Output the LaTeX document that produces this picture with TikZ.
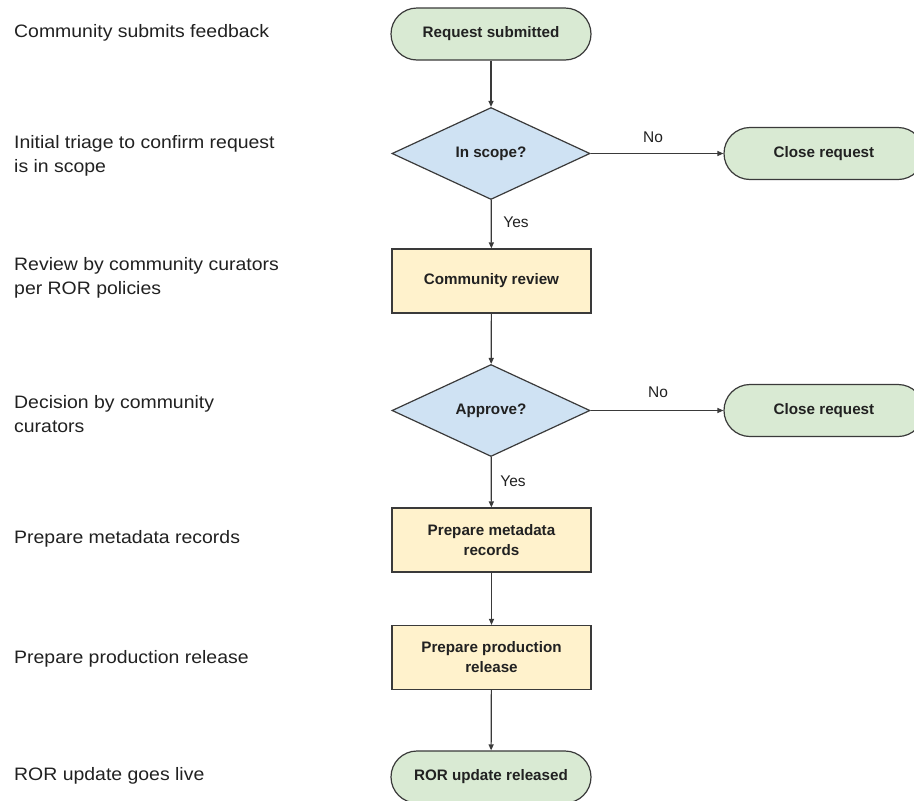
\documentclass[tikz,border=0pt]{standalone}
\usepackage{fontspec}
\setmainfont{Liberation Sans}
\newfontfamily\lblfont[FakeStretch=1.08]{Liberation Sans}
\usetikzlibrary{shapes.geometric,arrows.meta}
\definecolor{termgreen}{HTML}{D9EAD3}
\definecolor{decblue}{HTML}{CFE2F3}
\definecolor{procyellow}{HTML}{FFF2CC}
\definecolor{edgegray}{HTML}{3A3A3A}
\definecolor{txtdark}{HTML}{212121}
\tikzset{
  nodebase/.style={draw=edgegray, line width=1.2pt, font=\fontsize{15.2}{20}\selectfont\bfseries, align=center, inner sep=0pt, text=txtdark},
  term/.style={nodebase, rectangle, rounded corners=26pt, fill=termgreen, minimum width=200pt, minimum height=52pt},
  proc/.style={nodebase, rectangle, fill=procyellow, minimum width=199pt, minimum height=64pt},
  dec/.style={nodebase, diamond, fill=decblue, minimum width=198pt, minimum height=92pt},
  lbl/.style={anchor=base west, inner sep=0pt, font=\lblfont\fontsize{18}{23.5}\selectfont, align=left, text=txtdark},
  edgelbl/.style={font=\fontsize{15.5}{18}\selectfont, inner sep=0pt, text=txtdark},
  conn/.style={draw=edgegray, line width=1.2pt, -{Triangle[length=6pt,width=5pt]}}
}
\begin{document}
\begin{tikzpicture}[x=1pt,y=-1pt]
\useasboundingbox (0,0) rectangle (914,801);
\clip (0,0) rectangle (914,801);
\fill[white] (0,0) rectangle (914,801);
% flow nodes
\node[term] (req) at (491,34) {Request submitted};
\node[dec] (scope) at (491,153.5) {In scope?};
\node[term] (close1) at (824,153.5) {Close request};
\node[proc] (review) at (491.5,281) {Community review};
\node[dec] (appr) at (491,410.5) {Approve?};
\node[term] (close2) at (824,410.5) {Close request};
\node[proc] (meta) at (491.5,540) {Prepare metadata\\records};
\node[proc] (prod) at (491.5,657.5) {Prepare production\\release};
\node[term] (ror) at (491,777) {ROR update released};
% connectors
\draw[conn] (req) -- (scope);
\draw[conn] (scope) -- (close1);
\draw[conn] (scope) -- (review);
\draw[conn] (review) -- (appr);
\draw[conn] (appr) -- (close2);
\draw[conn] (appr) -- (meta);
\draw[conn] (meta) -- (prod);
\draw[conn] (prod) -- (ror);
% connector labels
\node[edgelbl] (yes1) at (516,222) {Yes};
\node[edgelbl] (no1) at (653,137) {No};
\node[edgelbl] (no2) at (658,392) {No};
\node[edgelbl] (yes2) at (513,481) {Yes};
% left-side descriptions (anchor on the last line's baseline)
\node[lbl] (d1) at (14,37) {Community submits feedback};
\node[lbl] (d2) at (14,172) {Initial triage to confirm request\\is in scope};
\node[lbl] (d3) at (14,294) {Review by community curators\\per ROR policies};
\node[lbl] (d4) at (14,432) {Decision by community\\curators};
\node[lbl] (d5) at (14,543) {Prepare metadata records};
\node[lbl] (d6) at (14,663) {Prepare production release};
\node[lbl] (d7) at (14,780) {ROR update goes live};
\end{tikzpicture}
\end{document}
